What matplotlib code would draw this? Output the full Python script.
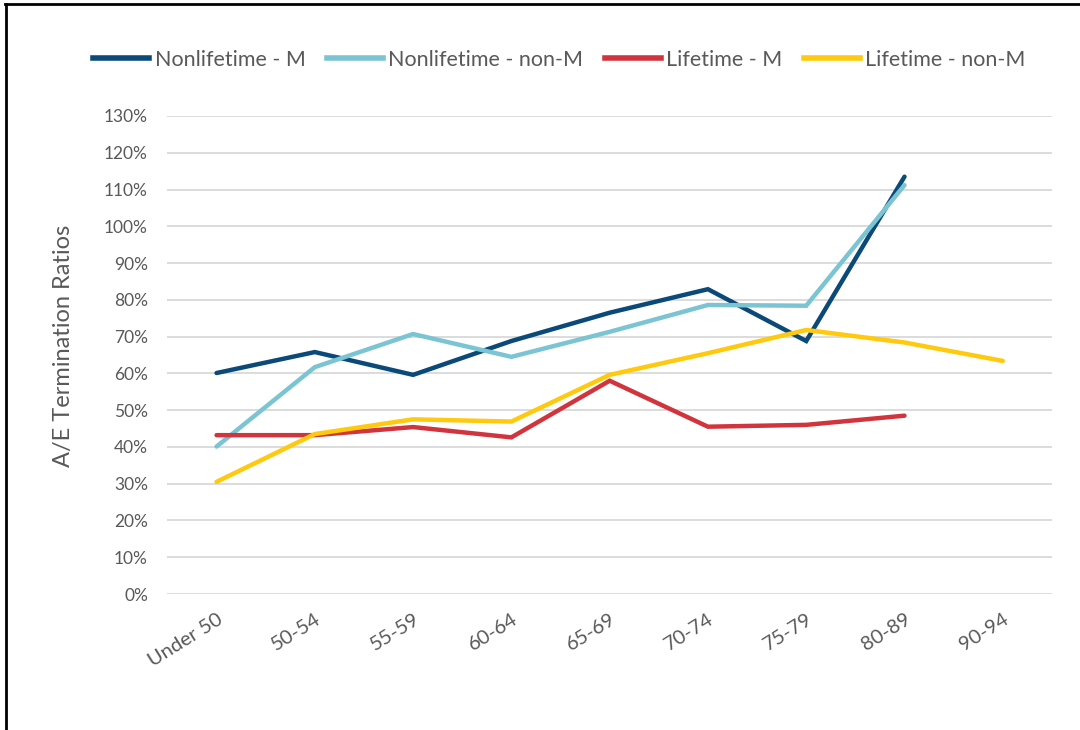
import matplotlib.pyplot as plt
from matplotlib.lines import Line2D
from matplotlib.ticker import PercentFormatter

plt.rcParams['font.family'] = ['Lato', 'DejaVu Sans']

ages = ['Under 50', '50-54', '55-59', '60-64', '65-69', '70-74', '75-79', '80-89', '90-94']

# A/E ratios (as fractions), None = no data
nonlife_m = [0.601, 0.658, 0.596, 0.688, 0.765, 0.829, 0.688, 1.135, None]
nonlife_nonm = [0.401, 0.617, 0.707, 0.645, 0.713, 0.786, 0.784, 1.112, None]
life_m = [0.432, 0.432, 0.454, 0.426, 0.580, 0.455, 0.460, 0.485, None]
life_nonm = [0.305, 0.435, 0.475, 0.469, 0.596, 0.655, 0.718, 0.684, 0.634]

series = [
    ('Nonlifetime - M', nonlife_m, '#0B4A78'),
    ('Nonlifetime - non-M', nonlife_nonm, '#7BC4D4'),
    ('Lifetime - M', life_m, '#D1343C'),
    ('Lifetime - non-M', life_nonm, '#FFC90E'),
]

fig = plt.figure(figsize=(10.8, 7.3), dpi=100)
ax = fig.add_axes([0.155, 0.1863, 0.819, 0.6548])

x = list(range(len(ages)))
for name, vals, col in series:
    xs = [i for i, v in zip(x, vals) if v is not None]
    ys = [v for v in vals if v is not None]
    ax.plot(xs, ys, color=col, lw=3.2, label=name, solid_capstyle='round',
            solid_joinstyle='miter')

ax.set_xlim(-0.5, len(ages) - 0.5)
ax.set_ylim(0, 1.3)
ax.set_yticks([i / 10 for i in range(14)])
ax.yaxis.set_major_formatter(PercentFormatter(1.0, decimals=0))
ax.set_xticks(x)
ax.set_xticklabels(ages, rotation=32, ha='right', rotation_mode='anchor')
ax.grid(axis='y', color='#D9D9D9', lw=1.3)
ax.set_axisbelow(True)
for s in ax.spines.values():
    s.set_visible(False)
ax.tick_params(axis='both', length=0, colors='#595959', labelsize=12.5)
ax.tick_params(axis='y', pad=14)
ax.tick_params(axis='x', pad=12, labelsize=14.5)
ax.set_ylabel('A/E Termination Ratios', color='#595959', fontsize=17)
ax.yaxis.set_label_coords(-0.106, 0.52)

handles = [Line2D([], [], color=c, lw=4) for _, _, c in series]
fig.legend(handles, [s[0] for s in series], loc='center', bbox_to_anchor=(0.518, 0.918),
           ncol=4, frameon=False, fontsize=15.5, labelcolor='#595959',
           handlelength=2.6, handletextpad=0.25, columnspacing=1.0)

# frame lines at top and left of the picture
fig.add_artist(Line2D([0.006, 0.006], [0.0, 0.994], color='black', lw=2, transform=fig.transFigure))
fig.add_artist(Line2D([0.005, 1.0], [0.994, 0.994], color='black', lw=2, transform=fig.transFigure))

fig.savefig('out.png', dpi=100)
